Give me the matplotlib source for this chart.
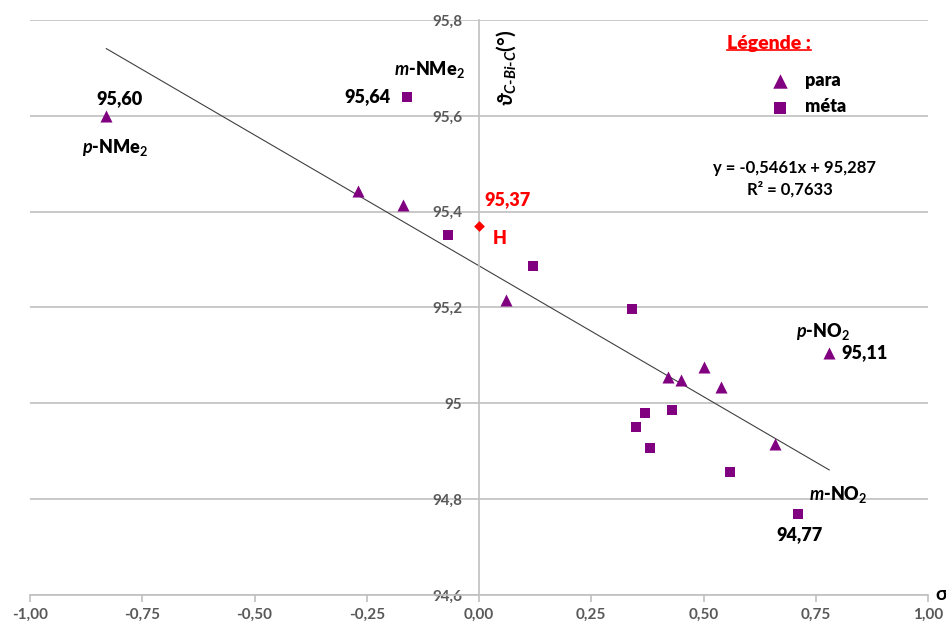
import numpy as np
import matplotlib
matplotlib.use("Agg")
import matplotlib.pyplot as plt
from matplotlib.ticker import FuncFormatter

# ---------------- data ----------------
para_sigma = [-0.83, -0.27, -0.17, 0.06, 0.42, 0.45, 0.50, 0.54, 0.66, 0.78]
para_angle = [95.60, 95.443, 95.414, 95.215, 95.055, 95.048, 95.076, 95.035, 94.915, 95.106]
meta_sigma = [-0.16, -0.07, 0.12, 0.34, 0.37, 0.35, 0.38, 0.43, 0.56, 0.71]
meta_angle = [95.64, 95.351, 95.286, 95.197, 94.980, 94.950, 94.907, 94.986, 94.857, 94.77]
h_sigma = [0.0]
h_angle = [95.37]
fit_slope = -0.5461
fit_intercept = 95.287
fit_r2 = 0.7633
x_ticks = [-1.0, -0.75, -0.5, -0.25, 0.0, 0.25, 0.5, 0.75, 1.0]
y_ticks = [94.6, 94.8, 95.0, 95.2, 95.4, 95.6, 95.8]
legend_labels = ["para", "méta"]

# ---------------- style ----------------
plt.rcParams['font.family'] = ['Lato', 'DejaVu Sans']
plt.rcParams['mathtext.fontset'] = 'custom'
plt.rcParams['mathtext.rm'] = 'Lato:bold'
plt.rcParams['mathtext.bf'] = 'Lato:bold'
plt.rcParams['mathtext.it'] = 'Lato:bold:italic'
plt.rcParams['mathtext.default'] = 'rm'

purple = '#800080'
red = '#FF0000'
grid_c = '#C0C0C0'
tick_c = '#595959'

fig = plt.figure(figsize=(9.46, 6.26), dpi=100)
ax = fig.add_axes([30/946, 1-595/626, 898/946, 575/626])

ax.set_xlim(-1.0, 1.0)
ax.set_ylim(94.6, 95.8)
ax.set_xticks(x_ticks)
ax.set_yticks(y_ticks)
ax.xaxis.set_major_formatter(FuncFormatter(lambda v, p: f"{v:.2f}".replace('.', ',')))
def yfmt(v, p):
    s = f"{v:.1f}"
    if s.endswith('.0'):
        s = s[:-2]
    return s.replace('.', ',')
ax.yaxis.set_major_formatter(FuncFormatter(yfmt))

for s in ['top', 'right']:
    ax.spines[s].set_visible(False)
ax.spines['left'].set_position(('data', 0))
ax.spines['left'].set_color(grid_c)
ax.spines['bottom'].set_color(grid_c)
ax.spines['left'].set_linewidth(1.2)
ax.spines['bottom'].set_linewidth(1.2)
ax.yaxis.grid(True, color=grid_c, linewidth=1.2)
ax.set_axisbelow(True)
ax.tick_params(axis='x', colors=grid_c, length=5, width=1.2, labelcolor=tick_c, labelsize=11, pad=4)
ax.tick_params(axis='y', colors=grid_c, length=0, labelcolor=tick_c, labelsize=11, pad=12)
for lab in ax.get_xticklabels() + ax.get_yticklabels():
    lab.set_fontweight('bold')

# trend line
xs = np.array([min(para_sigma + meta_sigma), max(para_sigma + meta_sigma)])
ax.plot(xs, fit_slope * xs + fit_intercept, color='#404040', linewidth=0.8, zorder=2)

ax.scatter(para_sigma, para_angle, marker='^', s=75, color=purple, zorder=3, label=legend_labels[0], linewidths=0)
ax.scatter(meta_sigma, meta_angle, marker='s', s=50, color=purple, zorder=3, label=legend_labels[1], linewidths=0)
ax.scatter(h_sigma, h_angle, marker='D', s=30, color=red, zorder=3, linewidths=0)

# annotations
fs = 13
kw = dict(fontsize=fs, fontweight='heavy')
ax.text(-0.80, 95.637, f"{para_angle[0]:.2f}".replace('.', ','), ha='center', va='center', **kw)
ax.text(-0.81, 95.533, r'$\mathit{p}$-NMe$_2$', ha='center', va='center', **kw)
ax.text(-0.111, 95.696, r'$\mathit{m}$-NMe$_2$', ha='center', va='center', **kw)
ax.text(-0.198, 95.641, f"{meta_angle[0]:.2f}".replace('.', ','), ha='right', va='center', **kw)
ax.text(0.013, 95.426, f"{h_angle[0]:.2f}".replace('.', ','), ha='left', va='center', color=red, **kw)
ax.text(0.047, 95.345, 'H', ha='center', va='center', color=red, **kw)
ax.text(0.766, 95.149, r'$\mathit{p}$-NO$_2$', ha='center', va='center', **kw)
ax.text(0.806, 95.105, f"{para_angle[-1]:.2f}".replace('.', ','), ha='left', va='center', **kw)
ax.text(0.80, 94.810, r'$\mathit{m}$-NO$_2$', ha='center', va='center', **kw)
ax.text(0.713, 94.727, f"{meta_angle[-1]:.2f}".replace('.', ','), ha='center', va='center', **kw)

# equation
eq = f"y = {fit_slope:.4f}x + {fit_intercept:.3f}".replace('.', ',')
ax.text(0.703, 95.492, eq, ha='center', va='center', fontsize=12, fontweight='bold')
ax.text(0.692, 95.446, f"R² = {fit_r2:.4f}".replace('.', ','), ha='center', va='center', fontsize=12, fontweight='bold')

# axis labels
ax.text(0.06, 95.70, r'$\mathit{\vartheta}_{\mathit{C\text{-}Bi\text{-}C}}\mathit{(°)}$', rotation=90,
        ha='center', va='center', fontsize=15)
ax.text(1.016, 94.6, 'σ', ha='left', va='center', fontsize=14, fontweight='bold', clip_on=False)

# legend
leg_title = ax.text(0.645, 95.752, 'Légende :', ha='center', va='center', fontsize=14,
                    fontweight='heavy', color=red)
fig.canvas.draw()
bb = leg_title.get_window_extent().transformed(fig.transFigure.inverted())
fig.add_artist(plt.Line2D([bb.x0, bb.x1], [bb.y0 + 0.002, bb.y0 + 0.002], color=red, linewidth=1.2,
                          transform=fig.transFigure))

leg = ax.legend(loc='upper left', bbox_to_anchor=(0.825, 0.9096), frameon=False, fontsize=13,
                handlelength=1.0, handletextpad=0.9, labelspacing=0.52, borderpad=0, borderaxespad=0,
                markerscale=1.2)
for t in leg.get_texts():
    t.set_fontweight('heavy')

fig.savefig('out.png', dpi=100)
